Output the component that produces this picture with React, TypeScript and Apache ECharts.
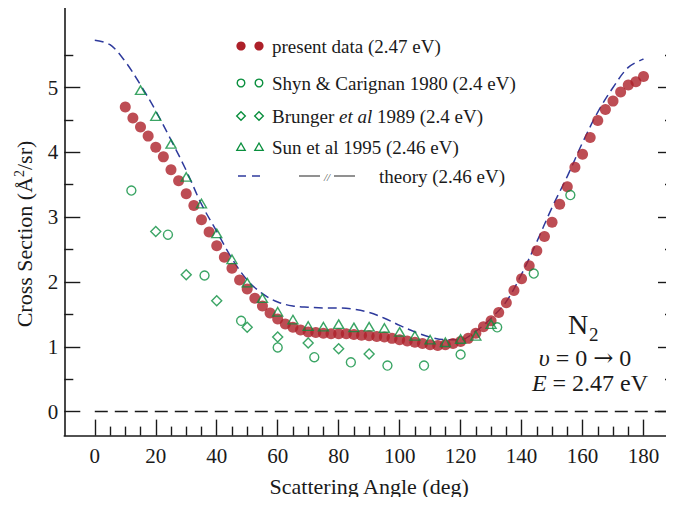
import { useEffect, useRef } from "react";
import * as echarts from "echarts";

// Present measurement (2.47 eV)
const presentAngle = [
  10, 12.5, 15, 17.5, 20, 22.5, 25, 27.5, 30, 32.5, 35, 37.5, 40, 42.5, 45, 47.5,
  50, 52.5, 55, 57.5, 60, 62.5, 65, 67.5, 70, 72.5, 75, 77.5, 80, 82.5, 85, 87.5,
  90, 92.5, 95, 97.5, 100, 102.5, 105, 107.5, 110, 112.5, 115, 117.5, 120, 122.5,
  125, 127.5, 130, 132.5, 135, 137.5, 140, 142.5, 145, 147.5, 150, 152.5, 155,
  157.5, 160, 162.5, 165, 167.5, 170, 172.5, 175, 177.5, 180,
];
const presentValue = [
  4.7, 4.53, 4.39, 4.25, 4.08, 3.93, 3.73, 3.56, 3.36, 3.18, 2.96, 2.77, 2.56, 2.38,
  2.21, 2.03, 1.89, 1.75, 1.63, 1.52, 1.43, 1.35, 1.3, 1.26, 1.23, 1.22, 1.21, 1.2,
  1.2, 1.2, 1.19, 1.18, 1.17, 1.16, 1.15, 1.13, 1.11, 1.09, 1.07, 1.05, 1.03, 1.02,
  1.03, 1.05, 1.08, 1.13, 1.21, 1.31, 1.4, 1.53, 1.68, 1.87, 2.05, 2.25, 2.48, 2.7,
  2.92, 3.2, 3.47, 3.77, 3.97, 4.23, 4.49, 4.66, 4.79, 4.93, 5.04, 5.09, 5.17,
];

// Shyn & Carignan 1980 (2.4 eV)
const shynAngle = [12, 24, 36, 48, 60, 72, 84, 96, 108, 120, 132, 144, 156];
const shynValue = [3.41, 2.73, 2.1, 1.4, 0.99, 0.84, 0.76, 0.71, 0.71, 0.88, 1.3, 2.13, 3.34];

// Brunger et al 1989 (2.4 eV)
const brungerAngle = [20, 30, 40, 50, 60, 70, 80, 90];
const brungerValue = [2.78, 2.11, 1.71, 1.3, 1.15, 1.06, 0.97, 0.89];

// Sun et al 1995 (2.46 eV)
const sunAngle = [
  15, 20, 25, 30, 35, 40, 45, 50, 55, 60, 65, 70, 75, 80, 85, 90, 95, 100, 105, 110,
  115, 120, 125, 130,
];
const sunValue = [
  4.96, 4.56, 4.13, 3.62, 3.21, 2.75, 2.35, 1.99, 1.75, 1.54, 1.42, 1.32, 1.31, 1.35,
  1.3, 1.31, 1.29, 1.23, 1.17, 1.11, 1.07, 1.12, 1.17, 1.35,
];

// Theory (2.46 eV)
const theoryAngle = [
  0, 5, 10, 15, 20, 25, 30, 35, 40, 45, 50, 55, 60, 65, 70, 75, 80, 85, 90, 95, 100,
  105, 110, 115, 120, 125, 130, 135, 140, 145, 150, 155, 160, 165, 170, 175, 180,
];
const theoryValue = [
  5.73, 5.66, 5.4, 5.04, 4.64, 4.19, 3.72, 3.2, 2.78, 2.36, 2.03, 1.82, 1.69, 1.63,
  1.61, 1.6, 1.6, 1.58, 1.53, 1.44, 1.33, 1.23, 1.15, 1.11, 1.11, 1.24, 1.44, 1.7,
  2.12, 2.62, 3.15, 3.63, 4.15, 4.62, 5.0, 5.31, 5.44,
];

// Zero reference line
const zeroAngle = [0, 190];
const zeroValue = [0, 0];

// Axis ticks
const xMajorTicks = [0, 20, 40, 60, 80, 100, 120, 140, 160, 180];
const xMinorTicks = [
  5, 10, 15, 25, 30, 35, 45, 50, 55, 65, 70, 75, 85, 90, 95, 105, 110, 115, 125, 130,
  135, 145, 150, 155, 165, 170, 175,
];
const yMajorTicks = [0, 1, 2, 3, 4, 5];
const yMinorTicks = [0.5, 1.5, 2.5, 3.5, 4.5, 5.5];

const FONT = "'Liberation Serif', 'DejaVu Serif', serif";
const RED = "#ad2029";
const GREEN = "#0a8f3e";
const BLUE = "#2e3a9c";
const INK = "#1a1a1a";

const pairs = (xs: number[], ys: number[]) => xs.map((x, i) => [x, ys[i]]);

const tickLine = { color: INK, width: 1.4 };

function makeXAxis(major: boolean) {
  return {
    type: "value" as const,
    min: -10,
    max: 190,
    position: "bottom" as const,
    axisLine: { show: major, onZero: false, lineStyle: { color: INK, width: 1.6 } },
    axisTick: {
      show: true,
      inside: true,
      length: major ? 16 : 9,
      customValues: major ? xMajorTicks : xMinorTicks,
      lineStyle: tickLine,
    },
    axisLabel: {
      show: major,
      customValues: xMajorTicks,
      margin: 10,
      color: INK,
      fontFamily: FONT,
      fontSize: 21,
    },
    splitLine: { show: false },
  };
}

function makeYAxis(major: boolean, side: "left" | "right", labels: boolean) {
  return {
    type: "value" as const,
    min: -0.37,
    max: 6.35,
    position: side,
    axisLine: { show: major, onZero: false, lineStyle: { color: INK, width: 1.6 } },
    axisTick: {
      show: true,
      inside: true,
      length: major ? 16 : 9,
      customValues: major ? yMajorTicks : yMinorTicks,
      lineStyle: tickLine,
    },
    axisLabel: {
      show: labels,
      customValues: yMajorTicks,
      margin: 6,
      color: INK,
      fontFamily: FONT,
      fontSize: 21,
    },
    splitLine: { show: false },
  };
}

const legendY = [46, 83, 116, 147, 176];
const symX = [241, 259];
const textX = 272;

function legendGraphics() {
  const els: any[] = [];
  const txt = (x: number, y: number, text: string, extra: any = {}) => ({
    type: "text",
    x,
    y,
    style: {
      text,
      fontFamily: FONT,
      fontSize: 19,
      fill: INK,
      verticalAlign: "middle",
      ...extra,
    },
  });
  // present data
  symX.forEach((x) =>
    els.push({ type: "circle", shape: { cx: x, cy: legendY[0], r: 4.6 }, style: { fill: RED } })
  );
  els.push(txt(textX, legendY[0], "present data (2.47 eV)"));
  // Shyn & Carignan
  symX.forEach((x) =>
    els.push({
      type: "circle",
      shape: { cx: x, cy: legendY[1], r: 3.8 },
      style: { fill: "none", stroke: GREEN, lineWidth: 1.4 },
    })
  );
  els.push(txt(textX, legendY[1], "Shyn & Carignan 1980 (2.4 eV)"));
  // Brunger et al
  symX.forEach((x) => {
    const y = legendY[2];
    els.push({
      type: "polygon",
      shape: { points: [[x, y - 4.3], [x + 4.3, y], [x, y + 4.3], [x - 4.3, y]] },
      style: { fill: "none", stroke: GREEN, lineWidth: 1.4 },
    });
  });
  els.push(
    txt(textX, legendY[2], "{n|Brunger }{i|et al}{n| 1989 (2.4 eV)}", {
      rich: {
        n: { fontFamily: FONT, fontSize: 19, fill: INK },
        i: { fontFamily: FONT, fontSize: 19, fill: INK, fontStyle: "italic" },
      },
    })
  );
  // Sun et al
  symX.forEach((x) => {
    const y = legendY[3];
    els.push({
      type: "polygon",
      shape: { points: [[x, y - 4], [x + 4.2, y + 3.4], [x - 4.2, y + 3.4]] },
      style: { fill: "none", stroke: GREEN, lineWidth: 1.3 },
    });
  });
  els.push(txt(textX, legendY[3], "Sun et al 1995 (2.46 eV)"));
  // theory
  const ty = legendY[4];
  els.push({ type: "line", shape: { x1: 238, y1: ty, x2: 246, y2: ty }, style: { stroke: BLUE, lineWidth: 1.5 } });
  els.push({ type: "line", shape: { x1: 252, y1: ty, x2: 260, y2: ty }, style: { stroke: BLUE, lineWidth: 1.5 } });
  els.push({ type: "line", shape: { x1: 299, y1: ty, x2: 320, y2: ty }, style: { stroke: "#555", lineWidth: 1.3 } });
  els.push({ type: "line", shape: { x1: 334, y1: ty, x2: 355, y2: ty }, style: { stroke: "#555", lineWidth: 1.3 } });
  els.push(
    txt(327, ty + 1, "//", {
      fontSize: 11,
      fill: "#555",
      align: "center",
      fontStyle: "italic",
    })
  );
  els.push(txt(379, ty, "theory (2.46 eV)"));
  return els;
}

function annotationGraphics() {
  return [
    {
      type: "text",
      x: 568,
      y: 324,
      style: { text: "N", fontFamily: FONT, fontSize: 28, fill: INK, verticalAlign: "middle" },
    },
    {
      type: "text",
      x: 589,
      y: 334,
      style: { text: "2", fontFamily: FONT, fontSize: 19, fill: INK, verticalAlign: "middle" },
    },
    {
      type: "text",
      x: 585,
      y: 358,
      style: {
        text: "{i|υ}{n| = 0 }{a|→}{n| 0}",
        align: "center",
        verticalAlign: "middle",
        rich: {
          i: { fontFamily: FONT, fontSize: 24, fontStyle: "italic", fill: INK },
          n: { fontFamily: FONT, fontSize: 24, fill: INK },
          a: { fontFamily: "'DejaVu Serif', serif", fontSize: 24, fill: INK },
        },
      },
    },
    {
      type: "text",
      x: 590,
      y: 383,
      style: {
        text: "{i|E}{n| = 2.47 eV}",
        align: "center",
        verticalAlign: "middle",
        rich: {
          i: { fontFamily: FONT, fontSize: 24, fontStyle: "italic", fill: INK },
          n: { fontFamily: FONT, fontSize: 24, fill: INK },
        },
      },
    },
    {
      type: "text",
      x: 24,
      y: 234,
      rotation: Math.PI / 2,
      style: {
        text: "{n|Cross Section (Å}{s|2}{n|/sr)}",
        align: "center",
        verticalAlign: "middle",
        rich: {
          n: { fontFamily: FONT, fontSize: 22, fill: INK },
          s: { fontFamily: FONT, fontSize: 14, fill: INK, verticalAlign: "top", padding: [0, 0, 10, 0] },
        },
      },
    },
  ];
}

export default function App() {
  const ref = useRef<HTMLDivElement>(null);

  useEffect(() => {
    if (!ref.current) return;
    const chart = echarts.init(ref.current, undefined, { renderer: "svg" });
    chart.setOption({
      animation: false,
      backgroundColor: "#ffffff",
      grid: { left: 64.3, top: 0, width: 613.3, height: 435.6 },
      xAxis: [
        {
          ...makeXAxis(true),
          name: "Scattering Angle (deg)",
          nameLocation: "middle",
          nameGap: 40,
          nameTextStyle: { fontFamily: FONT, fontSize: 22, color: INK },
        },
        makeXAxis(false),
      ],
      yAxis: [
        makeYAxis(true, "left", true),
        makeYAxis(false, "left", false),
        makeYAxis(true, "right", false),
        makeYAxis(false, "right", false),
      ],
      graphic: [...legendGraphics(), ...annotationGraphics()],
      series: [
        {
          name: "zero",
          type: "line",
          data: pairs(zeroAngle, zeroValue),
          symbol: "none",
          silent: true,
          lineStyle: { color: INK, width: 1.5, type: [13, 7] },
          z: 1,
        },
        {
          name: "theory (2.46 eV)",
          type: "line",
          data: pairs(theoryAngle, theoryValue),
          symbol: "none",
          smooth: 0.35,
          lineStyle: { color: BLUE, width: 1.5, type: [9, 5] },
          z: 2,
        },
        {
          name: "present data (2.47 eV)",
          type: "scatter",
          data: pairs(presentAngle, presentValue),
          symbol: "circle",
          symbolSize: 11,
          itemStyle: { color: RED },
          z: 3,
        },
        {
          name: "Shyn & Carignan 1980 (2.4 eV)",
          type: "scatter",
          data: pairs(shynAngle, shynValue),
          symbol: "circle",
          symbolSize: 9,
          itemStyle: { color: "rgba(255,255,255,0)", borderColor: GREEN, borderWidth: 1.4 },
          z: 4,
        },
        {
          name: "Brunger et al 1989 (2.4 eV)",
          type: "scatter",
          data: pairs(brungerAngle, brungerValue),
          symbol: "diamond",
          symbolSize: [10, 10],
          itemStyle: { color: "rgba(255,255,255,0)", borderColor: GREEN, borderWidth: 1.4 },
          z: 4,
        },
        {
          name: "Sun et al 1995 (2.46 eV)",
          type: "scatter",
          data: pairs(sunAngle, sunValue),
          symbol: "triangle",
          symbolSize: [10, 8.5],
          itemStyle: { color: "rgba(255,255,255,0)", borderColor: GREEN, borderWidth: 1.4 },
          z: 4,
        },
      ],
    });
    return () => chart.dispose();
  }, []);

  return <div ref={ref} style={{ width: 674, height: 505, margin: -8 }} />;
}
